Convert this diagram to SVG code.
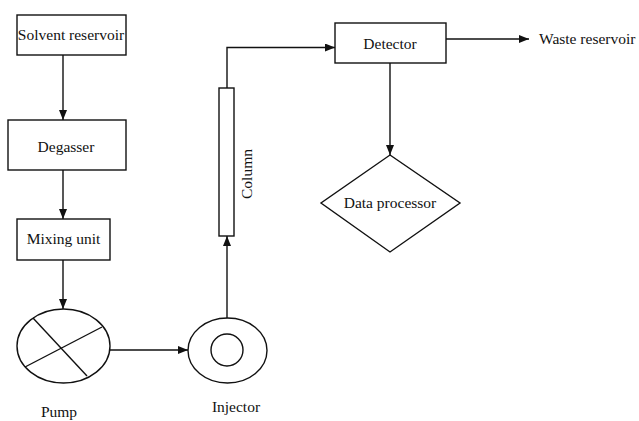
<svg xmlns="http://www.w3.org/2000/svg" width="639" height="421" viewBox="0 0 639 421" font-family="'Liberation Serif', 'Times New Roman', serif">
<defs>
<style>
.s{fill:#fff;stroke:#111;stroke-width:1.4}
.c{fill:none;stroke:#111;stroke-width:1.4}
text{font-family:'Liberation Serif','Times New Roman',serif;font-size:15.5px;fill:#111;text-anchor:middle}
</style>
<marker id="ah" viewBox="0 0 10 8" refX="10" refY="4" markerWidth="10" markerHeight="8" markerUnits="userSpaceOnUse" orient="auto">
<path d="M0,0 L10,4 L0,8 z" fill="#111"/>
</marker>
</defs>
<rect width="639" height="421" fill="#fff"/>
<g id="connectors">
<line class="c" x1="63" y1="55" x2="63" y2="120" marker-end="url(#ah)"/>
<line class="c" x1="63" y1="170" x2="63" y2="219" marker-end="url(#ah)"/>
<line class="c" x1="63" y1="260" x2="63" y2="309" marker-end="url(#ah)"/>
<line class="c" x1="110" y1="350" x2="188" y2="350" marker-end="url(#ah)"/>
<line class="c" x1="227" y1="318" x2="227" y2="236" marker-end="url(#ah)"/>
<polyline class="c" points="227,88 227,47.5 335,47.5" marker-end="url(#ah)"/>
<line class="c" x1="390" y1="63" x2="390" y2="155" marker-end="url(#ah)"/>
<line class="c" x1="446" y1="39" x2="529" y2="39" marker-end="url(#ah)"/>
</g>
<g id="solvent-reservoir">
<rect class="s" x="17" y="15" width="109" height="40"/>
<text x="71" y="40">Solvent reservoir</text>
</g>
<g id="degasser">
<rect class="s" x="8" y="120" width="118" height="50"/>
<text x="66" y="152">Degasser</text>
</g>
<g id="mixing-unit">
<rect class="s" x="17" y="219" width="93" height="41"/>
<text x="63.5" y="244">Mixing unit</text>
</g>
<g id="pump">
<ellipse class="s" cx="63.5" cy="346" rx="46.5" ry="37"/>
<line class="c" x1="33" y1="318" x2="87" y2="376"/>
<line class="c" x1="25" y1="367" x2="102" y2="327"/>
<text x="59" y="417">Pump</text>
</g>
<g id="injector">
<ellipse class="s" cx="227.5" cy="350.5" rx="39.5" ry="32.5"/>
<circle class="s" cx="227" cy="350" r="16"/>
<text x="236" y="412">Injector</text>
</g>
<g id="column">
<rect class="s" x="219" y="88" width="15" height="148"/>
<text transform="translate(252,174) rotate(-90)" x="0" y="0">Column</text>
</g>
<g id="detector">
<rect class="s" x="335" y="23" width="111" height="40"/>
<text x="390" y="49">Detector</text>
</g>
<g id="data-processor">
<polygon class="s" points="390,155 460,203 390,252 321,203"/>
<text x="390" y="208">Data processor</text>
</g>
<g id="waste-reservoir">
<text x="539" y="44" style="text-anchor:start">Waste reservoir</text>
</g>
</svg>
